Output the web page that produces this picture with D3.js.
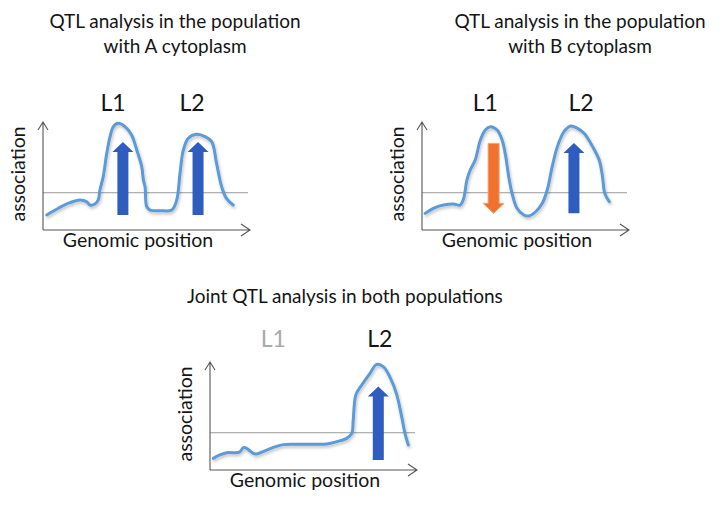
<!DOCTYPE html>
<html>
<head>
<meta charset="utf-8">
<script src="https://cdn.jsdelivr.net/npm/d3@7"></script>
<style>
	body { margin: 0; background: #fff; }
	svg { display: block; font-family: Lato, "Open Sans", sans-serif; }
</style>
</head>
<body>
<div id="chart"></div>
<script>
// genomic position (0-100) vs association (0-100)
var curveA = [[1.8,13.9],[7.4,20.1],[13,25.3],[17.9,27.8],[21.1,26.2],[22.7,23.1],[25.1,24.1],[26.7,27.8],[27.5,37],[29.1,49.4],[30.8,71],[32.4,86.4],[34,95.7],[36.4,98.8],[39.6,95.7],[42.8,88],[45.3,74.1],[47.7,58.6],[48.5,46.3],[49.3,40.1],[50.1,21.6],[51.7,18.5],[56.5,17.9],[62.2,18.5],[64.6,27.8],[66.2,52.5],[67.8,74.1],[70.2,84.9],[74.2,88.6],[78.3,86.4],[81.5,81.8],[83.9,61.1],[86.3,40.1],[88.7,29],[91.9,23.1]];
var curveB = [[1.5,15.4],[5.5,20.1],[10.4,23.1],[15.2,24.1],[18.4,23.1],[20.1,29],[21.7,46.3],[23.3,55.6],[25.7,64.8],[28.2,83.3],[30.6,92.6],[33,95.7],[36.3,92.6],[38.7,83.3],[40.3,69.8],[41.9,49.4],[43.5,33.9],[45.9,20.1],[49.2,13.9],[51.6,13],[54.9,16.9],[58.1,24.7],[60.5,37],[62.9,58.6],[65.4,77.2],[68.6,91],[71.8,96.3],[75.1,94.1],[78.3,89.5],[82.4,77.2],[85.6,64.8],[87.2,49.4],[88.3,33.9],[90.5,26.2]];
var curveC = [[1.6,10.8],[4.8,13.9],[8.1,16],[12.9,16],[14.5,17],[16.1,20.7],[17.7,20.1],[20.9,15.4],[22.5,14.8],[25.7,17],[30.6,21],[35.4,23.5],[41.9,23.8],[49.9,23.8],[56.4,24.1],[61.2,26.2],[66,29.3],[68.5,33.9],[69.2,46.3],[70.5,69.8],[73.3,78.7],[77.3,89.5],[80.5,97.8],[83.7,95.7],[87,85.8],[90.2,69.8],[92.6,49.4],[94.2,33.9],[95.8,23.1]];
var threshold = 34.5;

// effect arrows: position, from, to
var arrowsA = [{pos: 38.6, from: 13.9, to: 81.5, effect: "up"}, {pos: 74.9, from: 13.9, to: 81.5, effect: "up"}];
var arrowsB = [{pos: 34.6, from: 80.2, to: 15.4, effect: "down"}, {pos: 73.4, from: 15.4, to: 80.6, effect: "up"}];
var arrowsC = [{pos: 81.3, from: 9.3, to: 77.2, effect: "up"}];

var locusLabels = ["L1", "L2"];
var locusPosA = [33.8, 72];
var locusPosB = [30.6, 76.8];
var locusPosC = [30.6, 82];
var locusShownC = [false, true];

var titleA = ["QTL analysis in the population", "with A cytoplasm"];
var titleB = ["QTL analysis in the population", "with B cytoplasm"];
var titleC = ["Joint QTL analysis in both populations"];

var W = 726, H = 506;
var svg = d3.select("#chart").append("svg").attr("width", W).attr("height", H);

var defs = svg.append("defs");
var shadow = defs.append("filter").attr("id", "shadow")
		.attr("x", "-10%").attr("y", "-10%").attr("width", "120%").attr("height", "130%");
shadow.append("feDropShadow")
		.attr("dx", 1).attr("dy", 2).attr("stdDeviation", 1.4)
		.attr("flood-color", "#000").attr("flood-opacity", 0.25);

var colors = {curve: "#5b9ad8", up: "#2e5cbf", down: "#f0722e", axis: "#555", thr: "#999"};

function drawTitle(lines, x, y0, anchor) {
	svg.append("g").selectAll("text")
		.data(lines)
		.enter().append("text")
			.attr("x", x)
			.attr("y", function(d, i) { return y0 + i * 25; })
			.attr("text-anchor", anchor || "middle")
			.style("font-size", "19px")
			.style("fill", "#151515")
			.text(function(d) { return d; });
}

function drawPanel(p) {
	var width = 207, height = 108;
	var x = d3.scaleLinear().domain([0, 100]).range([0, width]);
	var y = d3.scaleLinear().domain([0, 100]).range([height, 0]);
	var g = svg.append("g").attr("transform", "translate(" + p.left + "," + p.top + ")");

	// threshold
	g.append("line")
			.attr("x1", 0).attr("x2", width - 2)
			.attr("y1", y(threshold)).attr("y2", y(threshold))
			.style("stroke", colors.thr).style("stroke-width", 1);

	// axes with open arrowheads
	var ax = g.append("g").style("stroke", colors.axis).style("fill", "none").style("stroke-width", 1.1);
	ax.append("path").attr("d", "M0," + height + "V0M-5,8L0,0L5,8");
	ax.append("path").attr("d", "M0," + height + "H" + width + "M" + (width - 9) + "," + (height - 6) + "L" + width + "," + height + "L" + (width - 9) + "," + (height + 6));

	// association curve
	var line = d3.line()
			.x(function(d) { return x(d[0]); })
			.y(function(d) { return y(d[1]); })
			.curve(d3.curveCatmullRom.alpha(0.5));
	g.append("path")
			.datum(p.curve)
			.attr("d", line)
			.attr("filter", "url(#shadow)")
			.style("fill", "none")
			.style("stroke", colors.curve)
			.style("stroke-width", 3)
			.style("stroke-linejoin", "round")
			.style("stroke-linecap", "round");

	// effect arrows
	g.selectAll(".effect")
		.data(p.arrows)
		.enter().append("path")
			.attr("class", "effect")
			.attr("d", function(d) {
				var cx = x(d.pos), y0 = y(d.from), y1 = y(d.to);
				var dir = y1 < y0 ? 1 : -1, hw = 10.5, sw = 5.5, hh = 10;
				var yb = y1 + dir * hh;
				return "M" + (cx - sw) + "," + y0 + "V" + yb + "H" + (cx - hw) + "L" + cx + "," + y1 +
					"L" + (cx + hw) + "," + yb + "H" + (cx + sw) + "V" + y0 + "Z";
			})
			.style("fill", function(d) { return colors[d.effect]; })
			.style("stroke", function(d) { return d.effect == "down" ? "#f6a26f" : "none"; })
			.style("stroke-width", 1);

	// locus labels
	g.selectAll(".locus")
		.data(locusLabels)
		.enter().append("text")
			.attr("class", "locus")
			.attr("x", function(d, i) { return x(p.locusPos[i]); })
			.attr("y", p.labelY)
			.attr("text-anchor", "middle")
			.style("font-size", "23px")
			.style("fill", function(d, i) { return p.shown && !p.shown[i] ? "#aaa" : "#151515"; })
			.text(function(d) { return d; });

	g.append("text")
			.attr("transform", "translate(-18," + (height * 0.5 - 2) + ") rotate(-90)")
			.attr("text-anchor", "middle")
			.style("font-size", "19.5px")
			.style("fill", "#151515")
			.text("association");

	g.append("text")
			.attr("x", 95).attr("y", height + 17)
			.attr("text-anchor", "middle")
			.style("font-size", "19.5px")
			.style("fill", "#151515")
			.text("Genomic position");
}

drawTitle(titleA, 175, 28);
drawTitle(titleB, 580, 28);
drawTitle(titleC, 187, 303, "start");

drawPanel({left: 43, top: 122, curve: curveA, arrows: arrowsA, locusPos: locusPosA, labelY: -11});
drawPanel({left: 422, top: 122, curve: curveB, arrows: arrowsB, locusPos: locusPosB, labelY: -11});
drawPanel({left: 210, top: 362, curve: curveC, arrows: arrowsC, locusPos: locusPosC, labelY: -15, shown: locusShownC});
</script>
</body>
</html>
